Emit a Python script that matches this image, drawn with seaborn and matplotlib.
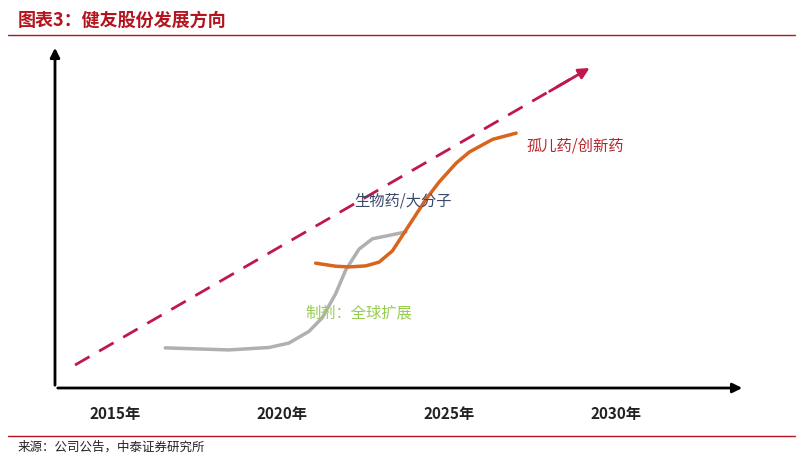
import matplotlib
matplotlib.use("Agg")
import matplotlib.pyplot as plt
import seaborn as sns

sns.set_style("white")
plt.rcParams['font.family'] = ['Noto Sans CJK SC', 'DejaVu Sans']

tick_years = [2015, 2020, 2025, 2030]
tick_labels = ["2015年", "2020年", "2025年", "2030年"]
gray_x = [2016.5, 2018.4, 2019.6, 2020.2, 2020.8, 2021.2, 2021.6, 2021.9, 2022.3, 2022.7, 2023.7]
gray_y = [11.7, 11.1, 11.8, 13.1, 16.5, 20.5, 27.5, 34.4, 40.5, 43.5, 45.5]
orange_x = [2021.0, 2021.6, 2022.0, 2022.5, 2022.9, 2023.3, 2023.8, 2024.3, 2024.7, 2025.2, 2025.6, 2026.3, 2027.0]
orange_y = [36.4, 35.5, 35.3, 35.6, 36.7, 40.0, 47.5, 55.0, 60.1, 65.5, 68.8, 72.5, 74.3]
trend_x = [2013.8, 2029.2]
trend_y = [6.7, 93.3]

fig = plt.figure(figsize=(8.03, 4.59), dpi=100)
ax = fig.add_axes([55/803, 71/459, 685/803, 343/459])
ax.set_xlim(2013.2, 2033.7)
ax.set_ylim(0, 100)
for s in ax.spines.values():
    s.set_visible(False)
ax.set_xticks([]); ax.set_yticks([])

sns.lineplot(x=trend_x[:1] + [2028.6], y=trend_y[:1] + [89.9], ax=ax, color="#c0184a", lw=2, linestyle=(0, (6, 4)))
ax.annotate("", xy=(trend_x[1], trend_y[1]), xytext=(2028.0, 86.5),
            arrowprops=dict(arrowstyle="-|>", color="#c0184a", lw=2, mutation_scale=16, shrinkA=0, shrinkB=0))
sns.lineplot(x=gray_x, y=gray_y, ax=ax, color="#b0b0b0", lw=2.5, sort=False)
sns.lineplot(x=orange_x, y=orange_y, ax=ax, color="#d8641e", lw=2.5, sort=False)

ax.text(2023.6, 54.5, "生物药/大分子", color="#3b4a6b", fontsize=11, ha="center", va="center")
ax.text(2027.3, 70.5, "孤儿药/创新药", color="#b5272d", fontsize=11, ha="left", va="center")
ax.text(2022.3, 22, "制剂：全球扩展", color="#96cc50", fontsize=11, ha="center", va="center")

fig.add_artist(matplotlib.patches.FancyArrowPatch((55/803, 71/459), (745/803, 71/459),
               transform=fig.transFigure, arrowstyle="-|>", mutation_scale=14, color="black", lw=2))
fig.add_artist(matplotlib.patches.FancyArrowPatch((55/803, 71/459), (55/803, 414/459),
               transform=fig.transFigure, arrowstyle="-|>", mutation_scale=14, color="black", lw=2))
for yr, lab in zip(tick_years, tick_labels):
    ax.text(yr, -7.5, lab, ha="center", va="center", fontsize=11, fontweight="bold", color="#222222")

fig.text(18/803, 1 - 20/459, "图表3：健友股份发展方向", color="#b5141e", fontsize=13,
         fontweight="bold", style="italic", va="center")
fig.add_artist(matplotlib.lines.Line2D([8/803, 795/803], [1 - 35/459] * 2, color="#b5141e", lw=1))
fig.add_artist(matplotlib.lines.Line2D([8/803, 795/803], [1 - 436/459] * 2, color="#b5141e", lw=1))
fig.text(18/803, 1 - 447/459, "来源：公司公告，中泰证券研究所", color="#222222", fontsize=9, va="center")

fig.savefig("out.png", dpi=100)
